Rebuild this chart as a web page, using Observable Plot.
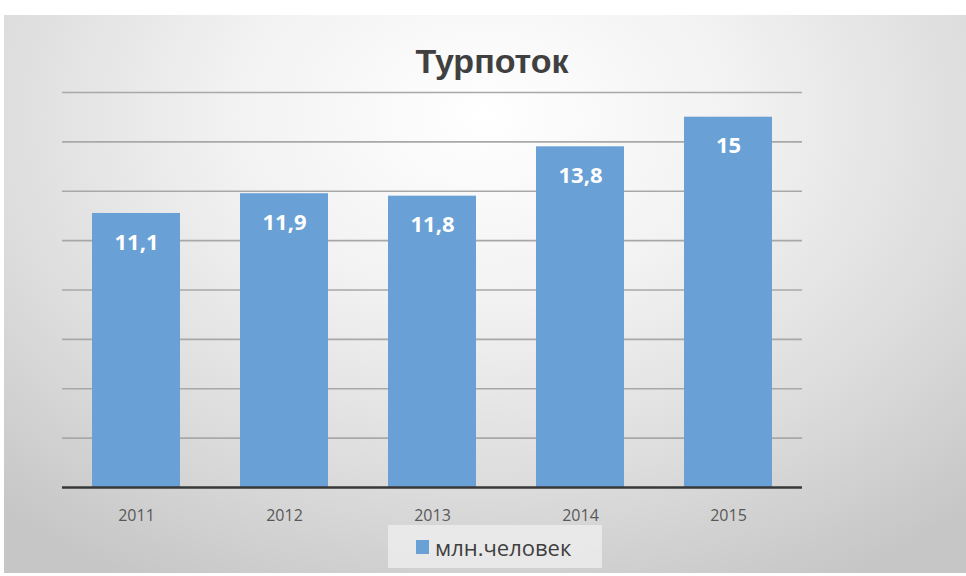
<!DOCTYPE html>
<html><head><meta charset="utf-8">
<script src="https://cdn.jsdelivr.net/npm/d3@7"></script>
<script src="https://cdn.jsdelivr.net/npm/@observablehq/plot@0.6"></script>
<style>
html,body{margin:0;padding:0;background:#fff;width:966px;height:576px;overflow:hidden;}
#panel{position:absolute;left:4px;top:15px;width:962px;height:558px;
 background:radial-gradient(ellipse 75% 95% at 50% 18%, #ffffff 0%, #f2f2f2 35%, #dcdcdc 70%, #c6c6c6 100%);}
#title{height:70px;line-height:92px;text-align:center;font-family:"Liberation Sans Narrow","Liberation Sans",sans-serif;font-weight:bold;font-size:34px;color:#404040;padding-left:14px;box-sizing:border-box;}
#legend{position:absolute;left:384px;top:510px;width:214px;height:43px;background:rgba(236,236,236,0.85);display:flex;align-items:center;font-family:"Open Sans",sans-serif;font-size:22px;color:#404040;}
#legend .sw{width:13px;height:14px;background:#69a0d6;margin-left:28px;margin-right:6px;}
svg{display:block;}
</style></head>
<body>
<div id="panel">
<div id="title">Турпоток</div>
<div id="chart"></div>
<div id="legend"><span class="sw"></span><span>млн.человек</span></div>
</div>
<script>
const years = ["2011","2012","2013","2014","2015"];
const values = [11.1, 11.9, 11.8, 13.8, 15];
const labels = ["11,1","11,9","11,8","13,8","15"];
const gridTicks = [2,4,6,8,10,12,14,16];
const seriesName = "млн.человек";

const data = years.map((y,i)=>({year:y, value:values[i], label:labels[i]}));

const chart = Plot.plot({
  width: 962,
  height: 440,
  marginLeft: 58,
  marginRight: 164,
  marginTop: 7,
  marginBottom: 38,
  style: {background:"transparent", fontFamily:"Open Sans, sans-serif", fontSize:"16px", overflow:"visible"},
  x: {domain: years, paddingInner: 0.405, paddingOuter: 0.2, label: null},
  y: {domain: [0,16], axis: null},
  marks: [
    Plot.ruleY(gridTicks, {stroke:"#a8a8a8", strokeWidth:1.6}),
    Plot.barY(data, {x:"year", y:"value", fill:"#69a0d6"}),
    Plot.ruleY([0], {stroke:"#383838", strokeWidth:2.6}),
    Plot.text(data, {x:"year", y:"value", text:"label", dy:29, fill:"white", fontWeight:"bold", fontSize:22, fontFamily:"Open Sans, sans-serif"}),
    Plot.axisX({tickSize:0, tickPadding:22, fontSize:16, fill:"#595959", label:null})
  ]
});
document.getElementById("chart").appendChild(chart);
</script>
</body></html>
